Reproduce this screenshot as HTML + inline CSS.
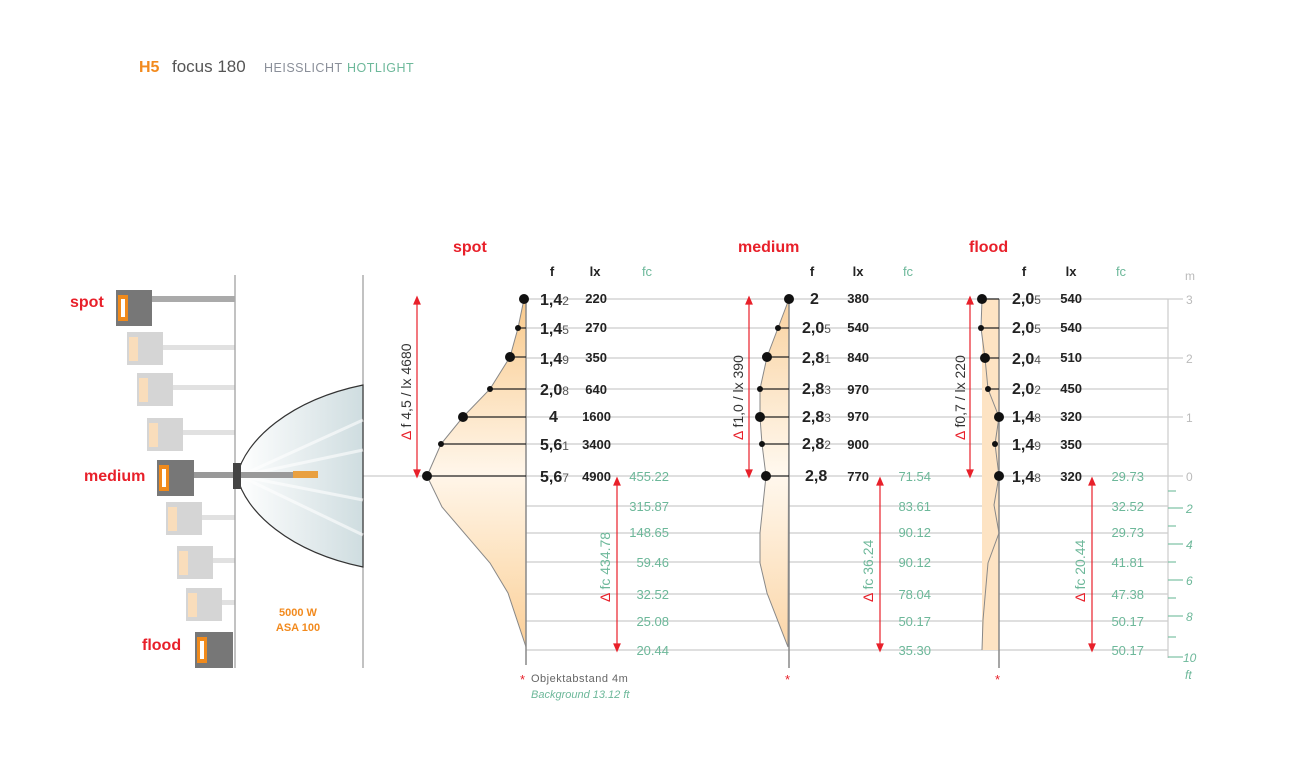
<!DOCTYPE html>
<html><head><meta charset="utf-8"><style>
body{margin:0;background:#fff;}
svg{display:block;font-family:"Liberation Sans",sans-serif;}
</style></head><body>
<svg width="1296" height="783" viewBox="0 0 1296 783" xmlns="http://www.w3.org/2000/svg">
<defs>
<linearGradient id="og" x1="0" y1="0" x2="0" y2="1">
<stop offset="0" stop-color="#f9c98a"/><stop offset="0.5" stop-color="#fff6ea"/><stop offset="0.75" stop-color="#fde3c0"/><stop offset="1" stop-color="#fbcf98"/></linearGradient>
<linearGradient id="og2" x1="0" y1="0" x2="0" y2="1">
<stop offset="0" stop-color="#f9d2a0"/><stop offset="0.5" stop-color="#fff8ee"/><stop offset="1" stop-color="#fbd6a8"/></linearGradient>
<linearGradient id="cone" x1="0" y1="0" x2="1" y2="0">
<stop offset="0" stop-color="#ffffff"/><stop offset="1" stop-color="#cfdde0"/></linearGradient>
</defs>
<text x="139" y="72" font-size="16" font-weight="bold" fill="#f28a1e">H5</text>
<text x="172" y="72" font-size="17" fill="#555">focus 180</text>
<text x="264" y="72" font-size="12.5" fill="#8a8f99" letter-spacing="0.5">HEISSLICHT</text>
<text x="347" y="72" font-size="12.5" fill="#6db89a" letter-spacing="0.5">HOTLIGHT</text>

<!-- horizontal lines -->
<g stroke="#ccc" stroke-width="1.2">
<line x1="363" y1="476" x2="1168" y2="476"/>
<line x1="526" y1="299" x2="1168" y2="299"/><line x1="526" y1="328" x2="1168" y2="328"/>
<line x1="526" y1="358" x2="1168" y2="358"/><line x1="526" y1="389" x2="1168" y2="389"/>
<line x1="526" y1="417" x2="1168" y2="417"/><line x1="526" y1="444" x2="1168" y2="444"/>
<line x1="526" y1="506" x2="1168" y2="506"/><line x1="526" y1="533" x2="1168" y2="533"/>
<line x1="526" y1="562" x2="1168" y2="562"/><line x1="526" y1="594" x2="1168" y2="594"/>
<line x1="526" y1="621" x2="1168" y2="621"/><line x1="526" y1="650" x2="1168" y2="650"/>
</g>
<line x1="235" y1="275" x2="235" y2="668" stroke="#999" stroke-width="1.2"/>
<line x1="363" y1="275" x2="363" y2="668" stroke="#999" stroke-width="1.2"/>

<!-- cone -->
<path d="M363,385 C290,400 245,440 237,476 C245,512 290,552 363,567 Z" fill="url(#cone)" stroke="#333" stroke-width="1.2"/>
<g stroke="#fff" stroke-width="3" opacity="0.6"><line x1="240" y1="476" x2="363" y2="420"/><line x1="240" y1="476" x2="363" y2="450"/><line x1="240" y1="476" x2="363" y2="500"/><line x1="240" y1="476" x2="363" y2="535"/></g>

<!-- lamps -->
<g>
<rect x="151" y="296" width="84" height="6" fill="#aaa"/><rect x="116" y="290" width="36" height="36" fill="#777"/><rect x="118" y="295" width="10" height="26" fill="#f08a1c"/><rect x="121" y="299" width="4" height="18" fill="#fff"/>
<g opacity="0.35">
<rect x="162" y="345" width="73" height="5" fill="#aaa"/><rect x="127" y="332" width="36" height="33" fill="#888"/><rect x="129" y="337" width="9" height="24" fill="#f0a040"/>
<rect x="170" y="385" width="65" height="5" fill="#aaa"/><rect x="137" y="373" width="36" height="33" fill="#888"/><rect x="139" y="378" width="9" height="24" fill="#f0a040"/>
<rect x="180" y="430" width="55" height="5" fill="#aaa"/><rect x="147" y="418" width="36" height="33" fill="#888"/><rect x="149" y="423" width="9" height="24" fill="#f0a040"/>
<rect x="200" y="515" width="35" height="5" fill="#aaa"/><rect x="166" y="502" width="36" height="33" fill="#888"/><rect x="168" y="507" width="9" height="24" fill="#f0a040"/>
<rect x="210" y="558" width="25" height="5" fill="#aaa"/><rect x="177" y="546" width="36" height="33" fill="#888"/><rect x="179" y="551" width="9" height="24" fill="#f0a040"/>
<rect x="218" y="600" width="17" height="5" fill="#aaa"/><rect x="186" y="588" width="36" height="33" fill="#888"/><rect x="188" y="593" width="9" height="24" fill="#f0a040"/>
</g>
<rect x="193" y="472" width="125" height="6" fill="#999"/><rect x="293" y="471" width="25" height="7" fill="#e9a040"/>
<rect x="233" y="463" width="8" height="26" fill="#444"/>
<rect x="157" y="460" width="37" height="36" fill="#777"/><rect x="159" y="465" width="10" height="26" fill="#f08a1c"/><rect x="162" y="469" width="4" height="18" fill="#fff"/>
<rect x="195" y="632" width="38" height="36" fill="#777"/><rect x="197" y="637" width="10" height="26" fill="#f08a1c"/><rect x="200" y="641" width="4" height="18" fill="#fff"/>
</g>
<g font-size="16" font-weight="bold" fill="#e8202a">
<text x="70" y="307">spot</text><text x="84" y="481">medium</text><text x="142" y="650">flood</text>
<text x="453" y="252">spot</text><text x="738" y="252">medium</text><text x="969" y="252">flood</text>
</g>
<g font-size="11" font-weight="bold" fill="#f28a1e" text-anchor="middle"><text x="298" y="616">5000 W</text><text x="298" y="631">ASA 100</text></g>

<!-- column headers -->
<g font-size="13" font-weight="bold" fill="#222" text-anchor="middle">
<text x="552" y="276">f</text><text x="595" y="276">lx</text><text x="812" y="276">f</text><text x="858" y="276">lx</text><text x="1024" y="276">f</text><text x="1071" y="276">lx</text></g>
<g font-size="13" fill="#6db89a" text-anchor="middle"><text x="647" y="276">fc</text><text x="908" y="276">fc</text><text x="1121" y="276">fc</text></g>

<!-- spot shape -->
<path d="M524,299 L518,328 L510,357 L490,389 L463,417 L441,444 L427,476 L442,507 L490,563 L508,593 L526,647 L526,299 Z" fill="url(#og)" stroke="#888" stroke-width="1"/>
<line x1="526" y1="299" x2="526" y2="665" stroke="#888" stroke-width="1.5"/>
<g stroke="#222" stroke-width="1.2"><line x1="518" y1="328" x2="526" y2="328"/><line x1="510" y1="357" x2="526" y2="357"/><line x1="490" y1="389" x2="526" y2="389"/><line x1="463" y1="417" x2="526" y2="417"/><line x1="441" y1="444" x2="526" y2="444"/><line x1="427" y1="476" x2="526" y2="476"/></g>
<g fill="#111"><circle cx="524" cy="299" r="5"/><circle cx="518" cy="328" r="3"/><circle cx="510" cy="357" r="5"/><circle cx="490" cy="389" r="3"/><circle cx="463" cy="417" r="5"/><circle cx="441" cy="444" r="3"/><circle cx="427" cy="476" r="5"/></g>

<!-- medium shape -->
<path d="M789,299 L778,328 L767,357 L760,389 L760,417 L762,444 L766,476 L760,533 L760,563 L767,593 L788,647 L789,299 Z" fill="url(#og2)" stroke="#888" stroke-width="1"/>
<line x1="789" y1="299" x2="789" y2="668" stroke="#888" stroke-width="1.5"/>
<g stroke="#222" stroke-width="1.2"><line x1="778" y1="328" x2="789" y2="328"/><line x1="767" y1="357" x2="789" y2="357"/><line x1="760" y1="389" x2="789" y2="389"/><line x1="760" y1="417" x2="789" y2="417"/><line x1="762" y1="444" x2="789" y2="444"/><line x1="766" y1="476" x2="789" y2="476"/></g>
<g fill="#111"><circle cx="789" cy="299" r="5"/><circle cx="778" cy="328" r="3"/><circle cx="767" cy="357" r="5"/><circle cx="760" cy="389" r="3"/><circle cx="760" cy="417" r="5"/><circle cx="762" cy="444" r="3"/><circle cx="766" cy="476" r="5"/></g>

<!-- flood shape -->
<rect x="982" y="299" width="17" height="351" fill="#fde3c3"/>
<path d="M982,299 L981,328 L985,358 L988,389 L999,417 L995,444 L999,476 L994,505 L999,533 L988,563 L983,620 L982,650" fill="none" stroke="#888" stroke-width="1"/>
<line x1="999" y1="299" x2="999" y2="668" stroke="#888" stroke-width="1.5"/>
<g stroke="#222" stroke-width="1.2"><line x1="982" y1="299" x2="999" y2="299"/><line x1="981" y1="328" x2="999" y2="328"/><line x1="985" y1="358" x2="999" y2="358"/><line x1="988" y1="389" x2="999" y2="389"/></g>
<g fill="#111"><circle cx="982" cy="299" r="5"/><circle cx="981" cy="328" r="3"/><circle cx="985" cy="358" r="5"/><circle cx="988" cy="389" r="3"/><circle cx="999" cy="417" r="5"/><circle cx="995" cy="444" r="3"/><circle cx="999" cy="476" r="5"/></g>

<!-- f & lx values -->
<g font-size="16" font-weight="bold" fill="#222">
<text x="540" y="305">1,4<tspan font-size="12" font-weight="normal" fill="#555">2</tspan></text>
<text x="540" y="334">1,4<tspan font-size="12" font-weight="normal" fill="#555">5</tspan></text>
<text x="540" y="364">1,4<tspan font-size="12" font-weight="normal" fill="#555">9</tspan></text>
<text x="540" y="395">2,0<tspan font-size="12" font-weight="normal" fill="#555">8</tspan></text>
<text x="549" y="422">4</text>
<text x="540" y="450">5,6<tspan font-size="12" font-weight="normal" fill="#555">1</tspan></text>
<text x="540" y="482">5,6<tspan font-size="12" font-weight="normal" fill="#555">7</tspan></text>
<text x="810" y="304">2</text>
<text x="802" y="333">2,0<tspan font-size="12" font-weight="normal" fill="#555">5</tspan></text>
<text x="802" y="363">2,8<tspan font-size="12" font-weight="normal" fill="#555">1</tspan></text>
<text x="802" y="394">2,8<tspan font-size="12" font-weight="normal" fill="#555">3</tspan></text>
<text x="802" y="422">2,8<tspan font-size="12" font-weight="normal" fill="#555">3</tspan></text>
<text x="802" y="449">2,8<tspan font-size="12" font-weight="normal" fill="#555">2</tspan></text>
<text x="805" y="481">2,8</text>
<text x="1012" y="304">2,0<tspan font-size="12" font-weight="normal" fill="#555">5</tspan></text>
<text x="1012" y="333">2,0<tspan font-size="12" font-weight="normal" fill="#555">5</tspan></text>
<text x="1012" y="364">2,0<tspan font-size="12" font-weight="normal" fill="#555">4</tspan></text>
<text x="1012" y="394">2,0<tspan font-size="12" font-weight="normal" fill="#555">2</tspan></text>
<text x="1012" y="422">1,4<tspan font-size="12" font-weight="normal" fill="#555">8</tspan></text>
<text x="1012" y="450">1,4<tspan font-size="12" font-weight="normal" fill="#555">9</tspan></text>
<text x="1012" y="482">1,4<tspan font-size="12" font-weight="normal" fill="#555">8</tspan></text>
</g>
<g font-size="13" font-weight="bold" fill="#222" text-anchor="end">
<text x="607" y="303">220</text><text x="607" y="332">270</text><text x="607" y="362">350</text><text x="607" y="394">640</text><text x="611" y="421">1600</text><text x="611" y="449">3400</text><text x="611" y="481">4900</text>
<text x="869" y="303">380</text><text x="869" y="332">540</text><text x="869" y="362">840</text><text x="869" y="394">970</text><text x="869" y="421">970</text><text x="869" y="449">900</text><text x="869" y="481">770</text>
<text x="1082" y="303">540</text><text x="1082" y="332">540</text><text x="1082" y="362">510</text><text x="1082" y="393">450</text><text x="1082" y="421">320</text><text x="1082" y="449">350</text><text x="1082" y="481">320</text>
</g>
<!-- fc values -->
<g font-size="13" fill="#6db89a" text-anchor="end">
<text x="669" y="481">455.22</text><text x="669" y="511">315.87</text><text x="669" y="537">148.65</text><text x="669" y="567">59.46</text><text x="669" y="599">32.52</text><text x="669" y="626">25.08</text><text x="669" y="655">20.44</text>
<text x="931" y="481">71.54</text><text x="931" y="511">83.61</text><text x="931" y="537">90.12</text><text x="931" y="567">90.12</text><text x="931" y="599">78.04</text><text x="931" y="626">50.17</text><text x="931" y="655">35.30</text>
<text x="1144" y="481">29.73</text><text x="1144" y="511">32.52</text><text x="1144" y="537">29.73</text><text x="1144" y="567">41.81</text><text x="1144" y="599">47.38</text><text x="1144" y="626">50.17</text><text x="1144" y="655">50.17</text>
</g>

<!-- red arrows -->
<g stroke="#e8202a" stroke-width="1.2" fill="#e8202a">
<line x1="417" y1="302" x2="417" y2="472"/><path d="M414,304 L417,297 L420,304Z M414,470 L417,477 L420,470Z"/>
<line x1="617" y1="483" x2="617" y2="646"/><path d="M614,485 L617,478 L620,485Z M614,644 L617,651 L620,644Z"/>
<line x1="749" y1="302" x2="749" y2="472"/><path d="M746,304 L749,297 L752,304Z M746,470 L749,477 L752,470Z"/>
<line x1="880" y1="483" x2="880" y2="646"/><path d="M877,485 L880,478 L883,485Z M877,644 L880,651 L883,644Z"/>
<line x1="970" y1="302" x2="970" y2="472"/><path d="M967,304 L970,297 L973,304Z M967,470 L970,477 L973,470Z"/>
<line x1="1092" y1="483" x2="1092" y2="646"/><path d="M1089,485 L1092,478 L1095,485Z M1089,644 L1092,651 L1095,644Z"/>
</g>
<g font-size="14">
<text transform="translate(411,440) rotate(-90)"><tspan fill="#e8202a">Δ</tspan><tspan fill="#333"> f 4,5 / lx 4680</tspan></text>
<text transform="translate(743,440) rotate(-90)"><tspan fill="#e8202a">Δ</tspan><tspan fill="#333"> f1,0 / lx 390</tspan></text>
<text transform="translate(965,440) rotate(-90)"><tspan fill="#e8202a">Δ</tspan><tspan fill="#333"> f0,7 / lx 220</tspan></text>
<text transform="translate(610,602) rotate(-90)"><tspan fill="#e8202a">Δ</tspan><tspan fill="#6db89a"> fc 434.78</tspan></text>
<text transform="translate(873,602) rotate(-90)"><tspan fill="#e8202a">Δ</tspan><tspan fill="#6db89a"> fc 36.24</tspan></text>
<text transform="translate(1085,602) rotate(-90)"><tspan fill="#e8202a">Δ</tspan><tspan fill="#6db89a"> fc 20.44</tspan></text>
</g>

<!-- footnotes -->
<text x="520" y="684" font-size="13" fill="#e8202a">*</text>
<text x="531" y="682" font-size="11" fill="#666" letter-spacing="0.5">Objektabstand 4m</text>
<text x="531" y="698" font-size="11" font-style="italic" fill="#6db89a">Background 13.12 ft</text>
<text x="785" y="684" font-size="13" fill="#e8202a">*</text>
<text x="995" y="684" font-size="13" fill="#e8202a">*</text>

<!-- right scale -->
<line x1="1168" y1="299" x2="1168" y2="658" stroke="#ccc" stroke-width="1.2"/>
<g stroke="#ccc" stroke-width="1.2"><line x1="1168" y1="299" x2="1183" y2="299"/><line x1="1168" y1="358" x2="1183" y2="358"/><line x1="1168" y1="417" x2="1183" y2="417"/><line x1="1168" y1="476" x2="1183" y2="476"/></g>
<g font-size="12" fill="#bbb"><text x="1185" y="280">m</text><text x="1186" y="304">3</text><text x="1186" y="363">2</text><text x="1186" y="422">1</text><text x="1186" y="481">0</text></g>
<g stroke="#7cc0a4" stroke-width="1.2">
<line x1="1168" y1="491" x2="1176" y2="491"/><line x1="1168" y1="526" x2="1176" y2="526"/><line x1="1168" y1="562" x2="1176" y2="562"/><line x1="1168" y1="598" x2="1176" y2="598"/><line x1="1168" y1="637" x2="1176" y2="637"/>
<line x1="1168" y1="508" x2="1183" y2="508"/><line x1="1168" y1="544" x2="1183" y2="544"/><line x1="1168" y1="580" x2="1183" y2="580"/><line x1="1168" y1="616" x2="1183" y2="616"/><line x1="1168" y1="657" x2="1183" y2="657"/></g>
<g font-size="12" font-style="italic" fill="#6db89a"><text x="1186" y="513">2</text><text x="1186" y="549">4</text><text x="1186" y="585">6</text><text x="1186" y="621">8</text><text x="1183" y="662">10</text><text x="1185" y="679">ft</text></g>
</svg>
</body></html>
